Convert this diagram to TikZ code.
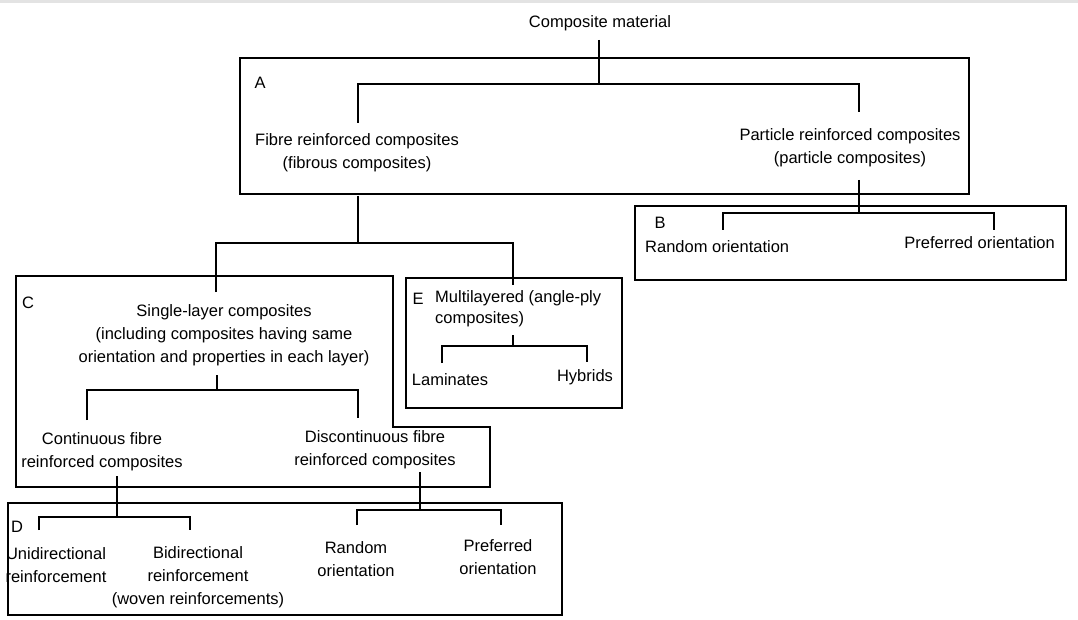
\documentclass[tikz,border=0pt]{standalone}
\usepackage{fontspec}
\setmainfont{Liberation Sans}
\tikzset{
  txt/.style={inner sep=0pt, align=center, font=\fontsize{16.5}{23}\selectfont},
  lab/.style={inner sep=0pt, font=\fontsize{16.5}{23}\selectfont},
  boxline/.style={draw=black, line width=1.3pt},
  heavyline/.style={draw=black, line width=2.6pt},
  conn/.style={draw=black, line width=1.7pt}
}
\begin{document}
\begin{tikzpicture}[x=1pt,y=-1pt]
\useasboundingbox (0,0) rectangle (1078,620);
\fill[gray!22] (0,0) rectangle (1078,3);

% ---------- boxes ----------
\draw[boxline] (240,58) rectangle (969,194);
\draw[heavyline] (239,58) -- (970,58);
\draw[boxline] (635,206) rectangle (1066,280);
\draw[heavyline] (634,280) -- (1067,280);
\draw[boxline] (16,276) -- (393,276) -- (393,427) -- (490,427) -- (490,487) -- (16,487) -- cycle;
\draw[boxline] (406,278) rectangle (622,408);
\draw[boxline] (8,503) rectangle (562,615);
\draw[heavyline] (8,502) -- (8,616);

% ---------- texts ----------
\node[txt] (title) at (600,23) {Composite material};
\node[lab] (labA) at (260,83) {A};
\node[txt] (fibre) at (357,153) {Fibre reinforced composites\\(fibrous composites)};
\node[txt] (particle) at (850,148) {Particle reinforced composites\\(particle composites)};
\node[lab] (labB) at (660,223) {B};
\node[txt, anchor=west] (randB) at (645,247) {Random orientation};
\node[txt, anchor=east] (prefB) at (1055,243) {Preferred orientation};
\node[lab] (labC) at (28,303) {C};
\node[txt] (single) at (224,335) {Single-layer composites\\(including composites having same\\orientation and properties in each layer)};
\node[txt] (cont) at (102,452) {Continuous fibre\\reinforced composites};
\node[txt] (discont) at (375,450) {Discontinuous fibre\\reinforced composites};
\node[lab] (labE) at (418,299) {E};
\node[txt, align=left, anchor=west, font=\fontsize{16.5}{21}\selectfont] (multi) at (435,309) {Multilayered (angle-ply\\composites)};
\node[txt] (lam) at (450,380) {Laminates};
\node[txt] (hyb) at (585,377) {Hybrids};
\node[lab] (labD) at (17,527) {D};
\node[txt] (uni) at (56,565) {Unidirectional\\reinforcement};
\node[txt] (bi) at (198,577) {Bidirectional\\reinforcement\\(woven reinforcements)};
\node[txt] (randD) at (356,559) {Random\\orientation};
\node[txt] (prefD) at (498,557) {Preferred\\orientation};

% ---------- junction coordinates ----------
\coordinate (tA0) at (599,40);
\coordinate (jA) at (599,84);
\coordinate (lA1) at (358,123);
\coordinate (lA2) at (859,112);

\coordinate (tB0) at (859,180);
\coordinate (jB) at (859,213);
\coordinate (lB1) at (723,230);
\coordinate (lB2) at (994,230);

\coordinate (tF0) at (358,196);
\coordinate (jF) at (358,243);
\coordinate (lF1) at (216,292);
\coordinate (lF2) at (513,285);

\coordinate (tS0) at (217,375);
\coordinate (jS) at (217,390);
\coordinate (lS1) at (87,420);
\coordinate (lS2) at (358,418);

\coordinate (tE0) at (513,335);
\coordinate (jE) at (513,346);
\coordinate (lE1) at (442,363);
\coordinate (lE2) at (587,362);

\coordinate (tC0) at (117,476);
\coordinate (jC) at (117,517);
\coordinate (lC1) at (39,530);
\coordinate (lC2) at (190,530);

\coordinate (tD0) at (420,472);
\coordinate (jD) at (420,510);
\coordinate (lD1) at (357,525);
\coordinate (lD2) at (501,525);

% ---------- connectors ----------
\draw[conn] (tA0) -- (jA);
\draw[conn] (lA1) |- (jA) -| (lA2);

\draw[conn] (tB0) -- (jB);
\draw[conn] (lB1) |- (jB) -| (lB2);

\draw[conn] (tF0) -- (jF);
\draw[conn] (lF1) |- (jF) -| (lF2);

\draw[conn] (tS0) -- (jS);
\draw[conn] (lS1) |- (jS) -| (lS2);

\draw[conn] (tE0) -- (jE);
\draw[conn] (lE1) |- (jE) -| (lE2);

\draw[conn] (tC0) -- (jC);
\draw[conn] (lC1) |- (jC) -| (lC2);

\draw[conn] (tD0) -- (jD);
\draw[conn] (lD1) |- (jD) -| (lD2);
\end{tikzpicture}
\end{document}
